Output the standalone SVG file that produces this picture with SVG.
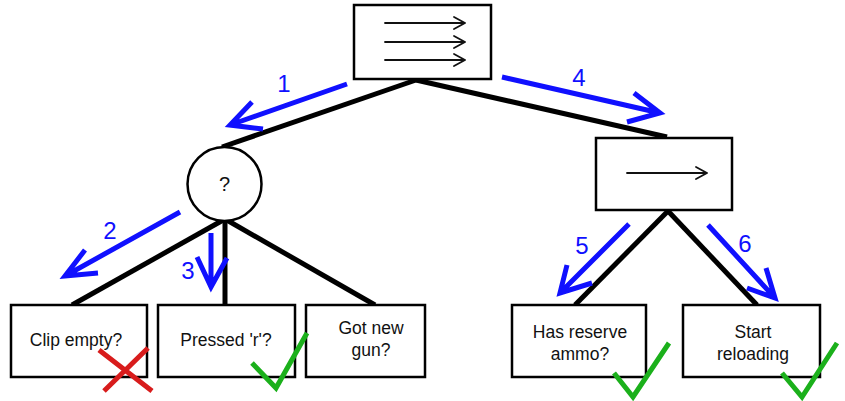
<svg xmlns="http://www.w3.org/2000/svg" width="845" height="401" viewBox="0 0 845 401">
  <style>
    .box { fill: #fff; stroke: #000; stroke-width: 2.5; }
    .edge { stroke: #000; stroke-width: 5; fill: none; stroke-linecap: butt; }
    .glyph { stroke: #111; stroke-width: 1.8; fill: none; stroke-linecap: round; stroke-linejoin: round; }
    .step { stroke: #1010ff; stroke-width: 5; fill: none; stroke-linecap: butt; stroke-linejoin: miter; }
    .num { fill: #1010ff; font-family: "Liberation Sans", Arial, sans-serif; font-size: 24px; text-anchor: middle; }
    .label { fill: #111; font-family: "Liberation Sans", Arial, sans-serif; font-size: 17.5px; text-anchor: middle; }
    .ok { stroke: #1bb01b; stroke-width: 5; fill: none; stroke-linecap: butt; stroke-linejoin: miter; }
    .fail { stroke: #d81c1c; stroke-width: 5; fill: none; }
  </style>

  <!-- tree edges -->
  <g id="connectors">
    <path class="edge" d="M416 80 L222 147"/>
    <path class="edge" d="M416 80 L667 137"/>
    <path class="edge" d="M225 219 L72 305"/>
    <path class="edge" d="M225 219 L225 305"/>
    <path class="edge" d="M225 219 L375 305"/>
    <path class="edge" d="M668 211 L575 305"/>
    <path class="edge" d="M668 211 L757 305"/>
  </g>

  <!-- root sequence -->
  <g id="root-sequence">
    <rect class="box" x="354" y="5" width="137" height="74"/>
    <path class="glyph" d="M385 23 H465 M454 17 L465 23 L454 29"/>
    <path class="glyph" d="M385 42 H465 M454 36 L465 42 L454 48"/>
    <path class="glyph" d="M385 60 H465 M454 54 L465 60 L454 66"/>
  </g>

  <!-- selector -->
  <g id="selector">
    <circle cx="224.5" cy="184" r="37" fill="#fff" stroke="#000" stroke-width="2.5"/>
    <text class="label" x="224.5" y="191" style="font-size:20px">?</text>
  </g>

  <!-- reload sequence -->
  <g id="reload-sequence">
    <rect class="box" x="596" y="138" width="136" height="72"/>
    <path class="glyph" d="M627 173 H707 M696 167 L707 173 L696 179"/>
  </g>

  <!-- leaves -->
  <g id="clip-empty">
    <rect class="box" x="11" y="305" width="136" height="72"/>
    <text class="label" x="76" y="346">Clip empty?</text>
  </g>
  <g id="pressed-r">
    <rect class="box" x="158" y="305" width="137" height="72"/>
    <text class="label" x="226" y="346">Pressed 'r'?</text>
  </g>
  <g id="got-new-gun">
    <rect class="box" x="306" y="305" width="119" height="72"/>
    <text class="label" x="371" y="334">Got new</text>
    <text class="label" x="371" y="356">gun?</text>
  </g>
  <g id="has-reserve-ammo">
    <rect class="box" x="512" y="305" width="134" height="72"/>
    <text class="label" x="580" y="338">Has reserve</text>
    <text class="label" x="580" y="360">ammo?</text>
  </g>
  <g id="start-reloading">
    <rect class="box" x="683" y="305" width="137" height="72"/>
    <text class="label" x="753" y="338">Start</text>
    <text class="label" x="753" y="360">reloading</text>
  </g>

  <!-- traversal order -->
  <g id="traversal">
    <path class="step" d="M347 84 L230 125 M252 102 L230 125 L263 129"/>
    <text class="num" x="284" y="92">1</text>
    <path class="step" d="M180 212 L65 276 M85 250 L65 276 L98 273"/>
    <text class="num" x="110" y="239">2</text>
    <path class="step" d="M211 233 L211 287 M197 257 L211 287 L227 258"/>
    <text class="num" x="188" y="279">3</text>
    <path class="step" d="M502 77 L660 113 M634 93 L660 113 L627 122"/>
    <text class="num" x="579" y="86">4</text>
    <path class="step" d="M629 224 L560 293 M567 265 L560 293 L592 283"/>
    <text class="num" x="582" y="254">5</text>
    <path class="step" d="M708 225 L775 298 M766 268 L775 298 L747 288"/>
    <text class="num" x="745" y="252">6</text>
  </g>

  <!-- results -->
  <g id="results">
    <path class="fail" d="M99 350 L152 391 M148 348 L104 391"/>
    <path class="ok" d="M252 363 L276 388 L307 333"/>
    <path class="ok" d="M614 373 L633 397 L669 343"/>
    <path class="ok" d="M782 373 L802 397 L837 343"/>
  </g>
</svg>
